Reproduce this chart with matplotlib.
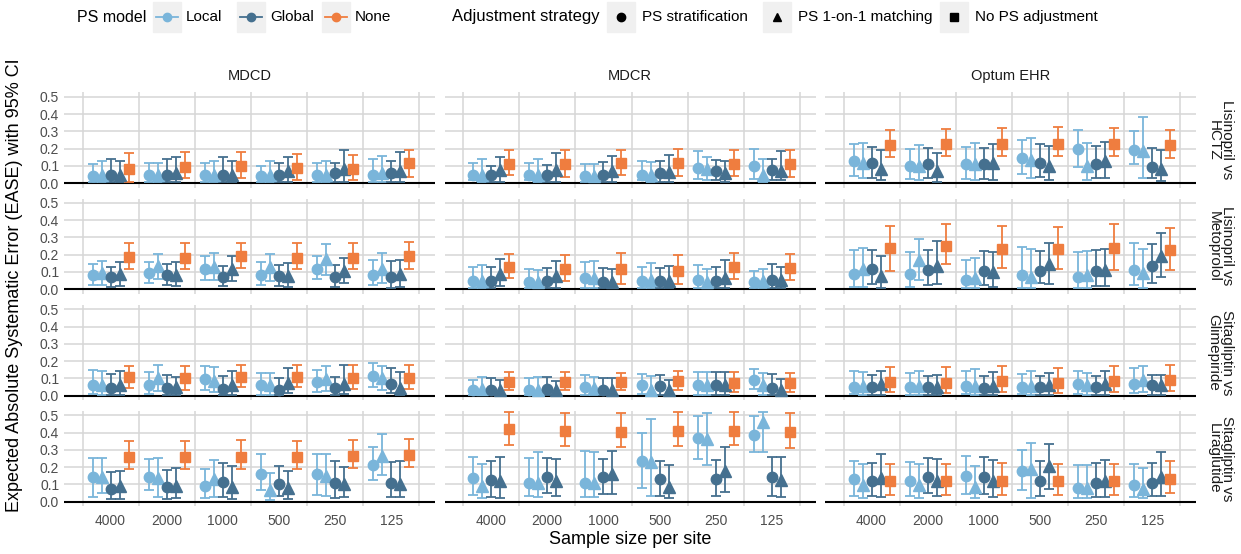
import numpy as np
import matplotlib
matplotlib.use("Agg")
import matplotlib.pyplot as plt
from matplotlib.patches import Rectangle
from matplotlib.lines import Line2D

plt.rcParams['font.family'] = ['Liberation Sans', 'DejaVu Sans']

# facets
databases = ["MDCD", "MDCR", "Optum EHR"]
comparisons = ["Lisinopril vs\nHCTZ", "Lisinopril vs\nMetoprolol",
               "Sitagliptin vs\nGlimepiride", "Sitagliptin vs\nLiraglutide"]
sample_sizes = ["4000", "2000", "1000", "500", "250", "125"]

# one row per panel (comparison-major, database-minor), 6 sample sizes each
# Local PS, stratification
loc_strat_est = [[0.04, 0.05, 0.05, 0.04, 0.05, 0.05], [0.05, 0.05, 0.04, 0.05, 0.09, 0.10], [0.13, 0.10, 0.11, 0.145, 0.20, 0.195],
                 [0.085, 0.095, 0.12, 0.08, 0.12, 0.08], [0.05, 0.04, 0.065, 0.05, 0.055, 0.04], [0.09, 0.09, 0.055, 0.08, 0.07, 0.11],
                 [0.06, 0.06, 0.095, 0.06, 0.08, 0.115], [0.035, 0.035, 0.05, 0.06, 0.06, 0.09], [0.05, 0.05, 0.055, 0.05, 0.065, 0.065],
                 [0.145, 0.145, 0.09, 0.16, 0.16, 0.21], [0.135, 0.11, 0.11, 0.235, 0.37, 0.385], [0.13, 0.12, 0.15, 0.18, 0.08, 0.095]]
loc_strat_lo = [[0.005, 0.005, 0.005, 0.005, 0.005, 0.005], [0.02, 0.02, 0.01, 0.02, 0.025, 0.025], [0.04, 0.025, 0.025, 0.055, 0.095, 0.11],
                [0.025, 0.035, 0.055, 0.025, 0.06, 0.025], [0.01, 0.005, 0.01, 0.01, 0.01, 0.005], [0.015, 0.015, 0.005, 0.01, 0.005, 0.025],
                [0.01, 0.01, 0.03, 0.005, 0.02, 0.05], [0.005, 0.005, 0.005, 0.01, 0.005, 0.04], [0.01, 0.005, 0.01, 0.01, 0.01, 0.015],
                [0.025, 0.07, 0.02, 0.07, 0.04, 0.125], [0.04, 0.03, 0.025, 0.08, 0.245, 0.29], [0.03, 0.03, 0.045, 0.07, 0.02, 0.025]]
loc_strat_hi = [[0.11, 0.12, 0.12, 0.10, 0.12, 0.14], [0.12, 0.115, 0.11, 0.13, 0.185, 0.20], [0.225, 0.20, 0.21, 0.25, 0.31, 0.30],
                [0.145, 0.155, 0.195, 0.155, 0.195, 0.17], [0.13, 0.115, 0.155, 0.13, 0.14, 0.105], [0.225, 0.215, 0.17, 0.245, 0.215, 0.265],
                [0.15, 0.135, 0.17, 0.13, 0.15, 0.19], [0.09, 0.10, 0.12, 0.125, 0.135, 0.155], [0.14, 0.13, 0.145, 0.125, 0.14, 0.16],
                [0.255, 0.245, 0.19, 0.275, 0.275, 0.315], [0.26, 0.25, 0.295, 0.40, 0.495, 0.495], [0.235, 0.23, 0.265, 0.30, 0.21, 0.22]]

# Local PS, 1-on-1 matching
loc_match_est = [[0.05, 0.05, 0.05, 0.05, 0.05, 0.06], [0.05, 0.05, 0.04, 0.05, 0.08, 0.05], [0.12, 0.10, 0.11, 0.135, 0.10, 0.185],
                 [0.095, 0.135, 0.13, 0.13, 0.175, 0.12], [0.05, 0.04, 0.065, 0.055, 0.04, 0.05], [0.115, 0.17, 0.065, 0.07, 0.085, 0.095],
                 [0.06, 0.105, 0.085, 0.06, 0.095, 0.10], [0.04, 0.035, 0.045, 0.035, 0.06, 0.06], [0.055, 0.055, 0.055, 0.055, 0.06, 0.09],
                 [0.14, 0.135, 0.13, 0.07, 0.15, 0.265], [0.09, 0.11, 0.11, 0.23, 0.36, 0.46], [0.095, 0.095, 0.085, 0.19, 0.08, 0.075]]
loc_match_lo = [[0.005, 0.005, 0.005, 0.005, 0.005, 0.005], [0.01, 0.01, 0.01, 0.01, 0.02, 0.01], [0.03, 0.02, 0.02, 0.03, 0.02, 0.03],
                [0.025, 0.06, 0.055, 0.05, 0.085, 0.035], [0.005, 0.005, 0.005, 0.005, 0.005, 0.005], [0.015, 0.055, 0.005, 0.005, 0.01, 0.01],
                [0.005, 0.025, 0.02, 0.005, 0.025, 0.035], [0.005, 0.005, 0.005, 0.005, 0.005, 0.005], [0.005, 0.005, 0.005, 0.005, 0.005, 0.02],
                [0.05, 0.025, 0.025, 0.01, 0.03, 0.155], [0.02, 0.025, 0.025, 0.03, 0.215, 0.29], [0.02, 0.02, 0.02, 0.02, 0.02, 0.02]]
loc_match_hi = [[0.13, 0.12, 0.13, 0.13, 0.13, 0.16], [0.14, 0.14, 0.11, 0.125, 0.15, 0.14], [0.235, 0.22, 0.235, 0.26, 0.235, 0.385],
                [0.165, 0.205, 0.21, 0.205, 0.26, 0.21], [0.14, 0.11, 0.165, 0.15, 0.115, 0.12], [0.24, 0.29, 0.18, 0.235, 0.22, 0.235],
                [0.14, 0.18, 0.165, 0.13, 0.17, 0.17], [0.11, 0.11, 0.11, 0.115, 0.135, 0.13], [0.135, 0.14, 0.155, 0.14, 0.13, 0.17],
                [0.25, 0.255, 0.24, 0.165, 0.275, 0.39], [0.22, 0.29, 0.29, 0.48, 0.51, 0.52], [0.22, 0.22, 0.205, 0.34, 0.215, 0.195]]

# Global PS, stratification
glob_strat_est = [[0.05, 0.05, 0.05, 0.05, 0.06, 0.06], [0.05, 0.05, 0.05, 0.06, 0.07, 0.075], [0.115, 0.11, 0.11, 0.12, 0.11, 0.095],
                  [0.07, 0.085, 0.07, 0.075, 0.07, 0.07], [0.05, 0.05, 0.04, 0.05, 0.05, 0.055], [0.12, 0.11, 0.105, 0.105, 0.105, 0.135],
                  [0.045, 0.045, 0.04, 0.035, 0.045, 0.065], [0.035, 0.04, 0.035, 0.055, 0.06, 0.045], [0.05, 0.05, 0.045, 0.05, 0.05, 0.06],
                  [0.075, 0.085, 0.115, 0.105, 0.11, 0.11], [0.125, 0.145, 0.14, 0.13, 0.13, 0.14], [0.12, 0.14, 0.14, 0.12, 0.11, 0.11]]
glob_strat_lo = [[0.01, 0.005, 0.005, 0.005, 0.005, 0.005], [0.01, 0.01, 0.01, 0.01, 0.02, 0.02], [0.03, 0.03, 0.025, 0.035, 0.03, 0.03],
                 [0.015, 0.025, 0.02, 0.02, 0.015, 0.01], [0.01, 0.01, 0.005, 0.005, 0.005, 0.01], [0.03, 0.025, 0.025, 0.035, 0.02, 0.035],
                 [0.005, 0.005, 0.005, 0.005, 0.005, 0.015], [0.005, 0.005, 0.005, 0.005, 0.005, 0.005], [0.005, 0.005, 0.005, 0.005, 0.005, 0.005],
                 [0.015, 0.015, 0.025, 0.03, 0.02, 0.025], [0.025, 0.05, 0.045, 0.035, 0.035, 0.035], [0.03, 0.05, 0.045, 0.03, 0.025, 0.03]]
glob_strat_hi = [[0.14, 0.14, 0.15, 0.12, 0.12, 0.13], [0.10, 0.105, 0.125, 0.13, 0.135, 0.14], [0.21, 0.205, 0.205, 0.225, 0.215, 0.205],
                 [0.13, 0.145, 0.135, 0.14, 0.14, 0.165], [0.13, 0.125, 0.125, 0.125, 0.13, 0.145], [0.225, 0.225, 0.22, 0.22, 0.23, 0.26],
                 [0.125, 0.12, 0.115, 0.105, 0.11, 0.16], [0.10, 0.11, 0.10, 0.12, 0.135, 0.125], [0.12, 0.115, 0.115, 0.115, 0.115, 0.12],
                 [0.17, 0.185, 0.225, 0.205, 0.235, 0.23], [0.235, 0.255, 0.245, 0.235, 0.24, 0.26], [0.225, 0.25, 0.26, 0.235, 0.225, 0.225]]

# Global PS, 1-on-1 matching
glob_match_est = [[0.05, 0.06, 0.05, 0.07, 0.08, 0.07], [0.075, 0.075, 0.07, 0.065, 0.06, 0.07], [0.085, 0.07, 0.115, 0.10, 0.13, 0.08],
                  [0.09, 0.085, 0.12, 0.075, 0.105, 0.09], [0.09, 0.075, 0.04, 0.05, 0.065, 0.055], [0.075, 0.135, 0.10, 0.145, 0.11, 0.195],
                  [0.06, 0.05, 0.06, 0.075, 0.07, 0.045], [0.035, 0.035, 0.035, 0.035, 0.06, 0.035], [0.065, 0.05, 0.055, 0.06, 0.07, 0.06],
                  [0.09, 0.09, 0.085, 0.08, 0.10, 0.105], [0.12, 0.12, 0.16, 0.085, 0.175, 0.125], [0.135, 0.12, 0.12, 0.205, 0.12, 0.14]]
glob_match_lo = [[0.005, 0.005, 0.005, 0.01, 0.01, 0.01], [0.01, 0.01, 0.01, 0.01, 0.01, 0.02], [0.02, 0.01, 0.02, 0.02, 0.03, 0.015],
                 [0.02, 0.02, 0.045, 0.015, 0.035, 0.015], [0.02, 0.01, 0.005, 0.005, 0.01, 0.01], [0.01, 0.03, 0.015, 0.03, 0.02, 0.07],
                 [0.005, 0.005, 0.005, 0.015, 0.01, 0.005], [0.005, 0.005, 0.005, 0.005, 0.005, 0.005], [0.005, 0.005, 0.005, 0.005, 0.005, 0.005],
                 [0.015, 0.02, 0.015, 0.015, 0.025, 0.025], [0.02, 0.03, 0.045, 0.02, 0.055, 0.025], [0.025, 0.03, 0.025, 0.075, 0.025, 0.03]]
glob_match_hi = [[0.13, 0.15, 0.13, 0.15, 0.19, 0.18], [0.15, 0.175, 0.155, 0.165, 0.13, 0.185], [0.195, 0.175, 0.23, 0.215, 0.24, 0.195],
                 [0.16, 0.155, 0.19, 0.15, 0.18, 0.17], [0.175, 0.165, 0.115, 0.135, 0.17, 0.13], [0.195, 0.28, 0.215, 0.27, 0.235, 0.325],
                 [0.14, 0.11, 0.145, 0.16, 0.175, 0.135], [0.09, 0.085, 0.10, 0.09, 0.135, 0.095], [0.14, 0.12, 0.135, 0.13, 0.145, 0.12],
                 [0.18, 0.195, 0.205, 0.175, 0.20, 0.235], [0.26, 0.245, 0.295, 0.21, 0.315, 0.26], [0.275, 0.245, 0.24, 0.335, 0.24, 0.285]]

# No PS adjustment
none_est = [[0.08, 0.095, 0.10, 0.09, 0.08, 0.115], [0.11, 0.11, 0.12, 0.12, 0.11, 0.11], [0.22, 0.23, 0.23, 0.23, 0.23, 0.22],
            [0.185, 0.18, 0.19, 0.18, 0.18, 0.19], [0.13, 0.12, 0.12, 0.105, 0.13, 0.125], [0.24, 0.25, 0.235, 0.235, 0.24, 0.225],
            [0.11, 0.105, 0.11, 0.11, 0.105, 0.105], [0.08, 0.08, 0.08, 0.085, 0.075, 0.075], [0.08, 0.075, 0.085, 0.075, 0.085, 0.09],
            [0.26, 0.26, 0.26, 0.26, 0.265, 0.27], [0.42, 0.41, 0.405, 0.41, 0.41, 0.405], [0.12, 0.12, 0.12, 0.12, 0.12, 0.13]]
none_lo = [[0.01, 0.03, 0.03, 0.02, 0.02, 0.035], [0.045, 0.035, 0.045, 0.04, 0.04, 0.035], [0.15, 0.155, 0.155, 0.16, 0.155, 0.145],
           [0.12, 0.115, 0.125, 0.12, 0.115, 0.12], [0.065, 0.045, 0.03, 0.03, 0.06, 0.055], [0.105, 0.145, 0.125, 0.12, 0.11, 0.11],
           [0.045, 0.035, 0.05, 0.05, 0.04, 0.04], [0.03, 0.03, 0.03, 0.03, 0.02, 0.02], [0.02, 0.015, 0.02, 0.015, 0.02, 0.025],
           [0.19, 0.19, 0.19, 0.19, 0.195, 0.20], [0.33, 0.32, 0.315, 0.32, 0.325, 0.31], [0.04, 0.04, 0.04, 0.04, 0.04, 0.05]]
none_hi = [[0.175, 0.18, 0.18, 0.17, 0.165, 0.195], [0.19, 0.19, 0.195, 0.20, 0.19, 0.19], [0.31, 0.315, 0.32, 0.325, 0.32, 0.31],
           [0.27, 0.265, 0.27, 0.265, 0.265, 0.275], [0.205, 0.20, 0.21, 0.20, 0.21, 0.205], [0.365, 0.375, 0.365, 0.36, 0.375, 0.355],
           [0.17, 0.17, 0.18, 0.175, 0.175, 0.175], [0.135, 0.135, 0.13, 0.14, 0.135, 0.13], [0.165, 0.165, 0.17, 0.16, 0.17, 0.18],
           [0.35, 0.35, 0.355, 0.35, 0.355, 0.36], [0.52, 0.515, 0.51, 0.52, 0.52, 0.515], [0.22, 0.22, 0.225, 0.22, 0.22, 0.235]]

c_local = "#7ab5da"
c_global = "#45708f"
c_none = "#ef7d3f"

# (est, lo, hi, color, marker, markersize, dodge)
series = [
    (loc_strat_est, loc_strat_lo, loc_strat_hi, c_local, "o", 7.5, -0.32),
    (loc_match_est, loc_match_lo, loc_match_hi, c_local, "^", 8, -0.16),
    (glob_strat_est, glob_strat_lo, glob_strat_hi, c_global, "o", 7.5, 0.0),
    (glob_match_est, glob_match_lo, glob_match_hi, c_global, "^", 8, 0.16),
    (none_est, none_lo, none_hi, c_none, "s", 7, 0.32),
]

W, H = 1241, 554
fig = plt.figure(figsize=(W / 100, H / 100), dpi=100)


def rect(left, top, w, h):
    return [left / W, 1 - (top + h) / H, w / W, h / H]


def ftext(x, y, s, **kw):
    fig.text(x / W, 1 - y / H, s, **kw)


col_left = [64, 444.5, 825]
panel_w = 371
row_top = [92.5, 198.5, 304.9, 410.9]
panel_h = 95.1
xpos = np.arange(1, 7)

for r in range(4):
    for c in range(3):
        p = r * 3 + c
        ax = fig.add_axes(rect(col_left[c], row_top[r], panel_w, panel_h))
        ax.set_xlim(0.17, 6.776)
        ax.set_ylim(-0.025, 0.525)
        ax.set_xticks(np.arange(0.5, 7, 1))
        ax.set_xticklabels([])
        ax.set_xticks(xpos, minor=True)
        ax.set_yticks([0, 0.1, 0.2, 0.3, 0.4, 0.5])
        ax.grid(True, which="major", color="#d6d6d6", lw=1.1)
        ax.set_axisbelow(True)
        for s in ax.spines.values():
            s.set_visible(False)
        ax.tick_params(which="both", length=0, labelsize=10, labelcolor="#4d4d4d")
        if c == 0:
            ax.set_yticklabels(["0.0", "0.1", "0.2", "0.3", "0.4", "0.5"])
        else:
            ax.set_yticklabels([])
        if r == 3:
            ax.set_xticklabels(sample_sizes, minor=True)
            ax.tick_params(which="minor", pad=6)
        ax.axhline(0, color="black", lw=1.5, zorder=1.5)
        for est, lo, hi, col, mk, ms, dx in series:
            e = np.array(est[p])
            l = np.array(lo[p])
            h = np.array(hi[p])
            ax.errorbar(xpos + dx, e, yerr=[e - l, h - e], fmt=mk, color=col,
                        ms=ms, elinewidth=1.3, capsize=3.5, capthick=1.3, zorder=3)
        if r == 0:
            ftext(col_left[c] + panel_w / 2, 76, databases[c], ha="center", va="center",
                  fontsize=10.5, color="#1a1a1a")
        if c == 2:
            ftext(1220, row_top[r] + panel_h / 2, comparisons[r], ha="center", va="center",
                  rotation=270, fontsize=11, color="#1a1a1a", multialignment="center",
                  linespacing=0.95)

ftext(15, 285, "Expected Absolute Systematic Error (EASE) with 95% CI", rotation=90,
      ha="center", va="center", fontsize=13)
ftext(630, 540, "Sample size per site", ha="center", va="center", fontsize=13)

# legend
ly = 17
ftext(77, ly, "PS model", ha="left", va="center", fontsize=11.5)
for cx, col, lab in [(167, c_local, "Local"), (251, c_global, "Global"), (336, c_none, "None")]:
    fig.patches.append(Rectangle(((cx - 14) / W, 1 - (ly + 15) / H), 28 / W, 30 / H,
                                 transform=fig.transFigure, color="#f0f0f0", zorder=0))
    fig.lines.append(Line2D([(cx - 11) / W, (cx + 11) / W], [1 - ly / H, 1 - ly / H],
                            transform=fig.transFigure, color=col, lw=1.3))
    fig.lines.append(Line2D([cx / W], [1 - ly / H], transform=fig.transFigure, color=col,
                            marker="o", ms=6, lw=0))
    ftext(cx + 19, ly, lab, ha="left", va="center", fontsize=11)

ftext(452, ly, "Adjustment strategy", ha="left", va="center", fontsize=12)
for cx, mk, lab in [(621, "o", "PS stratification"), (777, "^", "PS 1-on-1 matching"),
                    (954, "s", "No PS adjustment")]:
    fig.patches.append(Rectangle(((cx - 14) / W, 1 - (ly + 15) / H), 28 / W, 30 / H,
                                 transform=fig.transFigure, color="#f0f0f0", zorder=0))
    fig.lines.append(Line2D([cx / W], [1 - ly / H], transform=fig.transFigure, color="black",
                            marker=mk, ms=6, lw=0))
    ftext(cx + 21, ly, lab, ha="left", va="center", fontsize=11)

fig.savefig("out.png", dpi=100)
